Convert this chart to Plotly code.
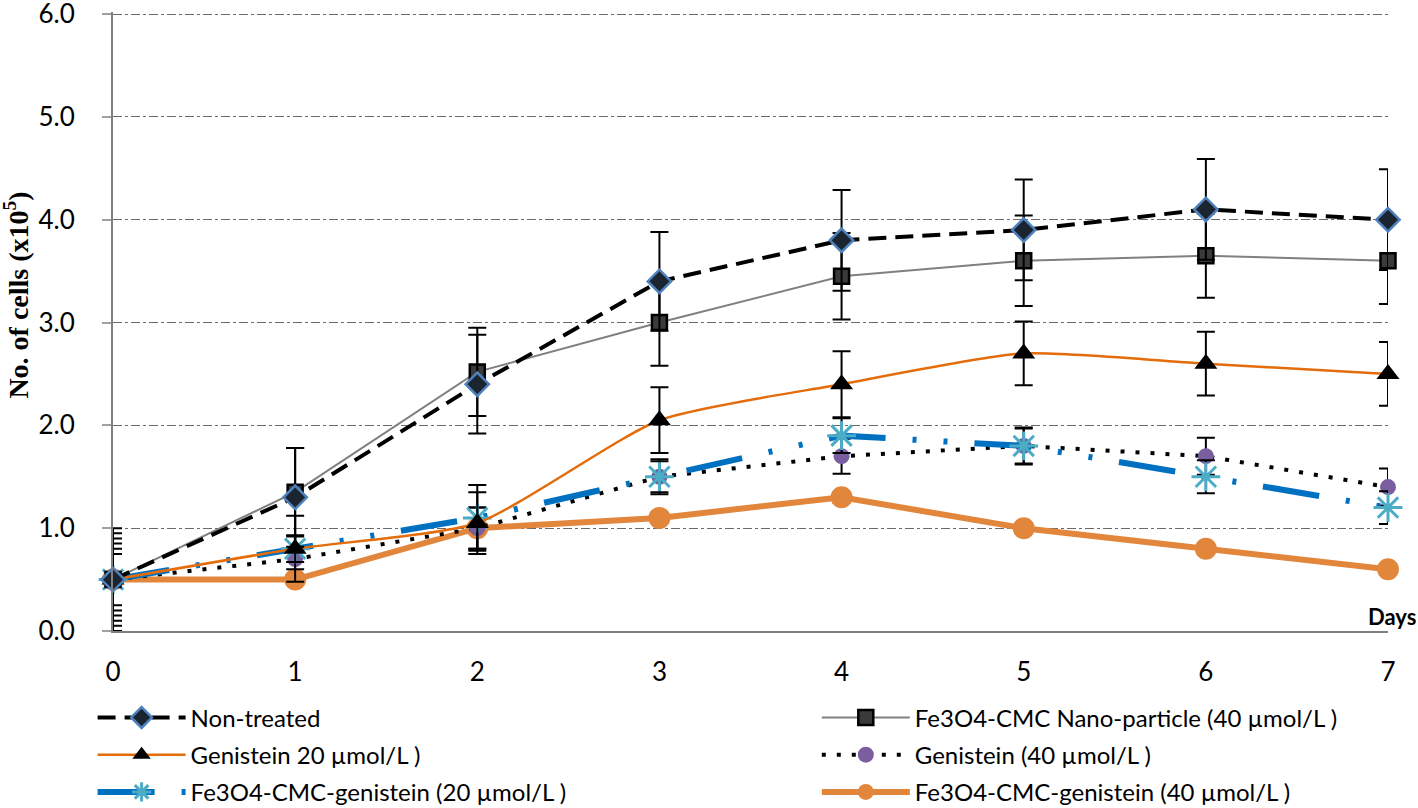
import plotly.graph_objects as go

days = [0, 1, 2, 3, 4, 5, 6, 7]
x_tick_labels = ["0", "1", "2", "3", "4", "5", "6", "7"]
y_tick_vals = [0, 1, 2, 3, 4, 5, 6]
y_tick_labels = ["0.0", "1.0", "2.0", "3.0", "4.0", "5.0", "6.0"]

non_treated = [0.5, 1.3, 2.4, 3.4, 3.8, 3.9, 4.1, 4.0]
non_treated_err = [0.5, 0.48, 0.48, 0.48, 0.49, 0.49, 0.49, 0.49]

fe_cmc = [0.5, 1.35, 2.52, 3.0, 3.45, 3.6, 3.65, 3.6]
fe_cmc_err = [0.45, 0.43, 0.43, 0.42, 0.42, 0.44, 0.41, 0.42]

gen20 = [0.5, 0.8, 1.05, 2.05, 2.4, 2.7, 2.6, 2.5]
gen20_err = [0.4, 0.13, 0.3, 0.32, 0.32, 0.31, 0.31, 0.31]

gen40 = [0.5, 0.7, 1.0, 1.5, 1.7, 1.8, 1.7, 1.4]
gen40_err = [0.35, 0.1, 0.2, 0.15, 0.17, 0.18, 0.18, 0.18]

fegen20 = [0.5, 0.8, 1.1, 1.5, 1.9, 1.8, 1.5, 1.2]
fegen20_err = [0.3, 0.32, 0.32, 0.17, 0.17, 0.17, 0.16, 0.16]

fegen40 = [0.5, 0.5, 1.0, 1.1, 1.3, 1.0, 0.8, 0.6]
fegen40_err = [0.25, 0.05, 0.2, 0.05, 0.05, 0.05, 0.05, 0.05]

names = [
    "Non-treated",
    "Fe3O4-CMC Nano-particle (40 µmol/L )",
    "Genistein 20 µmol/L )",
    "Genistein (40 µmol/L )",
    "Fe3O4-CMC-genistein (20 µmol/L )",
    "Fe3O4-CMC-genistein (40 µmol/L )",
]

def err(v):
    return dict(type="data", array=v, visible=True, color="black", thickness=2, width=9)

fig = go.Figure()

fig.add_trace(go.Scatter(
    x=days, y=fegen40, name=names[5], mode="lines+markers",
    line=dict(color="#E2863C", width=6),
    marker=dict(symbol="circle", size=22, color="#E2863C"),
    error_y=err(fegen40_err), cliponaxis=False,
    legend="legend2", legendgroup="g6", legendrank=3))

fig.add_trace(go.Scatter(
    x=days, y=gen40, name=names[3], mode="lines+markers",
    line=dict(color="black", width=4, dash="4px,11px"),
    marker=dict(symbol="circle", size=16, color="#7B5EA0"),
    error_y=err(gen40_err), cliponaxis=False,
    legend="legend2", legendgroup="g4", legendrank=2))

fig.add_trace(go.Scatter(
    x=days, y=fegen20, name=names[4], mode="lines+markers",
    line=dict(color="#0070C0", width=6, dash="57px,27px,4px,27px,4px,27px"),
    marker=dict(symbol="asterisk-open", size=24, color="#4BACC6", line=dict(color="#4BACC6", width=3)),
    error_y=err(fegen20_err), cliponaxis=False,
    legend="legend", legendgroup="g5", legendrank=3))

fig.add_trace(go.Scatter(
    x=days, y=gen20, name=names[2], mode="lines+markers",
    line=dict(color="#E46C0A", width=2.5, shape="spline", smoothing=0.6),
    marker=dict(symbol="triangle-up", size=20, color="black"),
    error_y=err(gen20_err), cliponaxis=False,
    legend="legend", legendgroup="g3", legendrank=2))

fig.add_trace(go.Scatter(
    x=days, y=fe_cmc, name=names[1], mode="lines+markers",
    line=dict(color="#808080", width=2),
    marker=dict(symbol="square", size=15, color="#3A3A3A", line=dict(color="black", width=2.5)),
    error_y=err(fe_cmc_err), cliponaxis=False,
    legend="legend2", legendgroup="g2", legendrank=1))

fig.add_trace(go.Scatter(
    x=days, y=non_treated, name=names[0], mode="lines+markers",
    line=dict(color="black", width=4, dash="18px,9px"),
    marker=dict(symbol="diamond", size=18, color="#1B2530", line=dict(color="#4F81BD", width=2.5)),
    error_y=err(non_treated_err), cliponaxis=False,
    legend="legend", legendgroup="g1", legendrank=1))

legend_common = dict(
    orientation="v", yanchor="top", xanchor="left", y=-0.104,
    itemwidth=88, tracegroupgap=3, traceorder="grouped",
    font=dict(family="Lato", size=24), bgcolor="rgba(0,0,0,0)",
)

fig.update_layout(
    width=1418, height=808,
    margin=dict(l=113, r=30, t=12, b=177, autoexpand=False),
    paper_bgcolor="white", plot_bgcolor="white",
    font=dict(family="Lato", size=22, color="black"),
    showlegend=True,
    legend=dict(x=-0.016, **legend_common),
    legend2=dict(x=0.552, **legend_common),
    xaxis=dict(
        range=[0, 7], tickvals=days, ticktext=x_tick_labels,
        showgrid=False, zeroline=False, showline=True, linecolor="#808080", linewidth=2,
        ticks="", ticklabelstandoff=17, tickfont=dict(family="Lato", size=26),
        ticklabeloverflow="allow",
    ),
    yaxis=dict(
        range=[0, 6.02], tickvals=y_tick_vals, ticktext=y_tick_labels,
        showgrid=True, gridcolor="#6A6A6A", gridwidth=1, griddash="dashdot",
        zeroline=False, showline=True, linecolor="#808080", linewidth=2,
        ticks="outside", ticklen=9, tickwidth=2, tickcolor="#A0A0A0",
        ticklabelstandoff=22, tickfont=dict(family="Lato", size=26),
        ticklabeloverflow="allow",
    ),
    annotations=[
        dict(text="<b>No. of cells (x10<sup>5</sup>)</b>", textangle=-90,
             xref="paper", yref="paper", x=-0.0755, y=0.543, xanchor="center", yanchor="middle",
             showarrow=False, font=dict(family="Liberation Serif", size=28, color="black")),
        dict(text="<b>Days</b>", xref="paper", yref="paper", x=1.0235, y=-0.002,
             xanchor="right", yanchor="bottom", showarrow=False,
             font=dict(family="Lato", size=22, color="black")),
    ],
)

fig.write_html(
    "out.html",
    config={"displayModeBar": False},
    post_script="document.body.style.margin='0px';document.body.style.overflow='hidden';",
)
